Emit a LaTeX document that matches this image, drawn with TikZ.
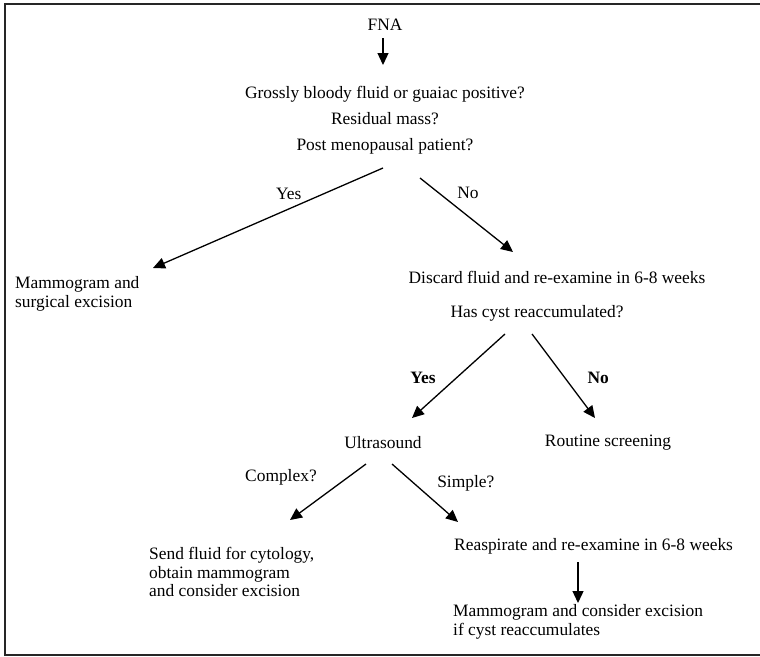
\documentclass[tikz,border=0pt]{standalone}
\usepackage{fontspec}
\setmainfont{Liberation Serif}
\usetikzlibrary{arrows.meta, positioning}

\begin{document}
\begin{tikzpicture}[
    x=1pt, y=-1pt,
    txt/.style={inner sep=0pt, font=\fontsize{17.4}{18.5}\selectfont},
    lefttxt/.style={txt, anchor=west, align=left},
    lbl/.style={inner sep=2pt, font=\fontsize{17.4}{18.5}\selectfont},
    boldlbl/.style={lbl, font=\fontsize{17.4}{18.5}\selectfont\bfseries},
    arrow/.style={-{Triangle[length=12pt, width=11pt]}, line width=1.3pt},
    frame/.style={line width=2pt, draw=black!85},
  ]
  \useasboundingbox (0,0) rectangle (760,656);
  \draw[frame] (762,4) -- (5,4) -- (5,655) -- (762,655);

  \node[txt] (fna) at (385,25) {FNA};
  \node[txt, align=center, font=\fontsize{17.4}{26}\selectfont] (quest) at (385,120)
    {Grossly bloody fluid or guaiac positive?\\ Residual mass?\\ Post menopausal patient?};
  \node[lefttxt] (mamsurg) at (15,294) {Mammogram and\\ surgical excision};
  \node[txt] (discard) at (557,277) {Discard fluid and re-examine in 6-8 weeks};
  \node[txt] (reacc) at (537,313) {Has cyst reaccumulated?};
  \node[txt] (ultra) at (383,443) {Ultrasound};
  \node[txt] (routine) at (608,443) {Routine screening};
  \node[lefttxt] (cyto) at (149,572) {Send fluid for cytology,\\ obtain mammogram\\ and consider excision};
  \node[lefttxt] (reasp) at (454,546) {Reaspirate and re-examine in 6-8 weeks};
  \node[lefttxt] (mamexc) at (453,622) {Mammogram and consider excision\\ if cyst reaccumulates};

  \draw[arrow] ([shift={(-2,13)}]fna.center) -- ([shift={(-2,-55)}]quest.center);
  \draw[arrow] ([shift={(-2,48)}]quest.center) -- node[lbl, pos=.41, above=7pt] {Yes} ([shift={(138,-26)}]mamsurg.west);
  \draw[arrow] ([shift={(35,58)}]quest.center) -- node[lbl, pos=.2, right=16pt] {No} ([shift={(-44,-25)}]discard.center);
  \draw[arrow] ([shift={(-32,21)}]reacc.center) -- node[boldlbl, pos=.524, left=18pt] {Yes} ([shift={(29,-25)}]ultra.center);
  \draw[arrow] ([shift={(-5,21)}]reacc.center) -- node[boldlbl, pos=.524, right=20pt] {No} ([shift={(-13,-25)}]routine.center);
  \draw[arrow] ([shift={(-17,21)}]ultra.center) -- node[lbl, pos=.232, left=29pt] {Complex?} ([shift={(141,-52)}]cyto.west);
  \draw[arrow] ([shift={(9,21)}]ultra.center) -- node[lbl, pos=.328, right=21pt] {Simple?} ([shift={(4,-24)}]reasp.west);
  \draw[arrow] ([shift={(124,16)}]reasp.west) -- ([shift={(125,-19)}]mamexc.west);
\end{tikzpicture}
\end{document}
